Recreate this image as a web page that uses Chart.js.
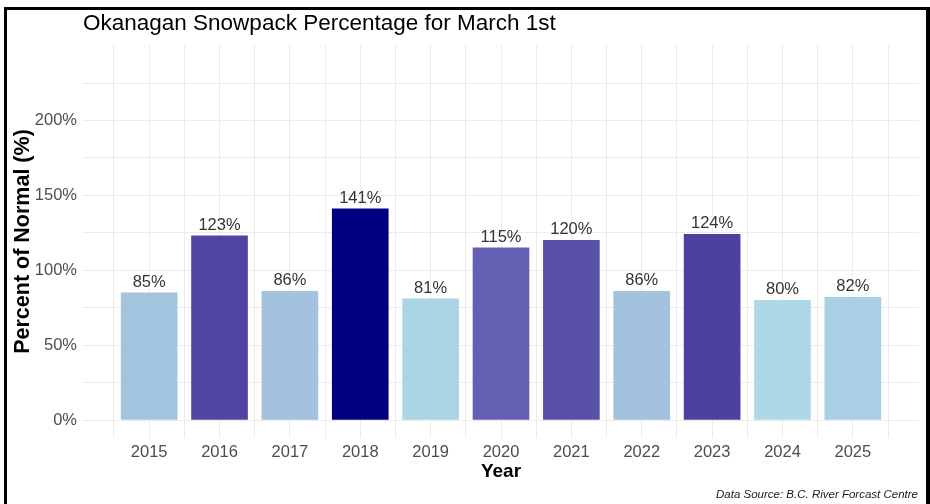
<!DOCTYPE html>
<html>
<head>
<meta charset="utf-8">
<script src="https://cdn.jsdelivr.net/npm/chart.js@4"></script>
<style>
    html, body { margin: 0; padding: 0; background: #fff; overflow: hidden; }
    #wrap { position: relative; width: 930px; height: 504px; }
    #frame {
        position: absolute; left: 4px; top: 7px; width: 926px; height: 520px;
        box-sizing: border-box; border: 3px solid #000; border-right-width: 4px;
        border-bottom: none; pointer-events: none;
    }
</style>
</head>
<body>
<div id="wrap">
    <canvas id="snowChart" width="930" height="504"></canvas>
    <div id="frame"></div>
</div>
<script>
// Data
const years = [2015, 2016, 2017, 2018, 2019, 2020, 2021, 2022, 2023, 2024, 2025];
const percents = [85, 123, 86, 141, 81, 115, 120, 86, 124, 80, 82];
const yTicks = [0, 25, 50, 75, 100, 125, 150, 175, 200, 225];
const yLabelTicks = [0, 50, 100, 150, 200];

// Fill colours (light blue -> navy gradient by value)
const barColors = ["#A3C4DF", "#5046A2", "#A4C1DD", "#000080", "#ABD4E5", "#645FB2",
                   "#5951A9", "#A4C1DD", "#4C40A0", "#ADD8E6", "#A8CFE3"];

const FONT = "'Liberation Sans', Arial, sans-serif";

// Title, caption and bar value labels
const textPlugin = {
    id: "textPlugin",
    afterDatasetsDraw(chart) {
        const ctx = chart.ctx;
        const meta = chart.getDatasetMeta(0);
        ctx.save();
        ctx.fillStyle = "#333333";
        ctx.font = "16.5px " + FONT;
        ctx.textAlign = "center";
        ctx.textBaseline = "alphabetic";
        meta.data.forEach((bar, i) => {
            ctx.fillText(percents[i] + "%", bar.x, bar.y - 6);
        });
        ctx.restore();
    },
    afterDraw(chart) {
        const ctx = chart.ctx;
        ctx.save();
        ctx.fillStyle = "#000000";
        ctx.font = "22.5px " + FONT;
        ctx.textAlign = "left";
        ctx.textBaseline = "alphabetic";
        ctx.fillText("Okanagan Snowpack Percentage for March 1st", 83, 30);

        ctx.fillStyle = "#1a1a1a";
        ctx.font = "italic 11.5px " + FONT;
        ctx.textAlign = "right";
        ctx.fillText("Data Source: B.C. River Forcast Centre", 918, 498);
        ctx.restore();
    }
};

const ctx = document.getElementById("snowChart").getContext("2d");

new Chart(ctx, {
    type: "bar",
    data: {
        datasets: [{
            data: years.map((y, i) => ({ x: y, y: percents[i] })),
            backgroundColor: barColors,
            borderWidth: 0,
            barThickness: 56
        }]
    },
    options: {
        responsive: false,
        animation: false,
        layout: { padding: { left: 0, top: 45, right: 11, bottom: 0 } },
        plugins: {
            legend: { display: false },
            tooltip: { enabled: false }
        },
        scales: {
            x: {
                type: "linear",
                offset: false,
                min: 2014.06,
                max: 2025.94,
                afterBuildTicks(scale) {
                    const ticks = [];
                    years.forEach(y => {
                        ticks.push({ value: y - 0.5 });
                        ticks.push({ value: y });
                    });
                    ticks.push({ value: years[years.length - 1] + 0.5 });
                    scale.ticks = ticks;
                },
                afterFit(scale) { scale.height = 66; },
                grid: { offset: false, color: "#ebebeb", lineWidth: 1, drawTicks: false },
                border: { display: false },
                ticks: {
                    autoSkip: false,
                    maxRotation: 0,
                    padding: 5,
                    color: "#4d4d4d",
                    font: { family: FONT, size: 16.5 },
                    callback: v => (Number.isInteger(v) ? String(v) : "")
                },
                title: {
                    display: true,
                    text: "Year",
                    color: "#000000",
                    font: { family: FONT, size: 19, weight: "bold" },
                    padding: { top: 0, bottom: 21 }
                }
            },
            y: {
                min: -12,
                max: 250.4,
                afterBuildTicks(scale) {
                    scale.ticks = yTicks.map(v => ({ value: v }));
                },
                afterFit(scale) { scale.width = 83; },
                grid: { color: "#ebebeb", lineWidth: 1, drawTicks: false },
                border: { display: false },
                ticks: {
                    padding: 6,
                    color: "#4d4d4d",
                    font: { family: FONT, size: 16.5 },
                    callback: v => (yLabelTicks.includes(v) ? v + "%" : "")
                },
                title: {
                    display: true,
                    text: "Percent of Normal (%)",
                    color: "#000000",
                    font: { family: FONT, size: 21.5, weight: "bold" },
                    padding: { top: 10, bottom: 0 }
                }
            }
        }
    },
    plugins: [textPlugin]
});
</script>
</body>
</html>
